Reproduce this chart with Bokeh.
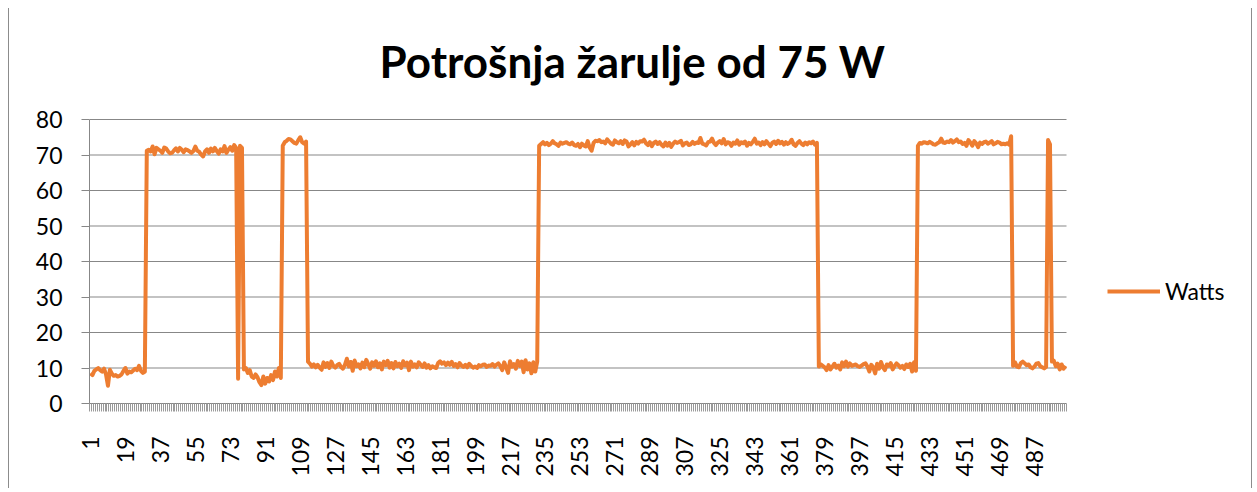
import numpy as np
from bokeh.plotting import figure
from bokeh.models import Range1d, FixedTicker, Legend, LegendItem, ColumnDataSource, Label
from bokeh.embed import file_html
from bokeh.resources import INLINE

# ---- data, one value per sample ----
low_a = [8.5, 8.0, 9.2, 9.6, 10.0, 9.4, 9.0, 9.8, 8.2, 5.0, 9.5, 8.4, 7.8, 8.0, 7.6,
         7.8, 8.2, 9.2, 10.0, 8.4, 9.0, 8.8, 9.3, 9.8, 9.4, 10.6, 9.2, 8.6, 9.0]
high_b = [71.2, 71.5, 71.0, 72.4, 70.2, 72.0, 71.6, 71.2, 70.6, 72.1,
          71.8, 71.0, 70.5, 70.6, 71.3, 71.9, 71.0, 72.0, 71.5, 70.8,
          71.6, 71.4, 71.0, 70.6, 71.1, 72.4, 71.2, 70.9, 70.1, 69.6,
          71.0, 71.6, 70.6, 71.8, 71.0, 72.0, 71.1, 70.4, 71.6, 71.0,
          72.5, 70.6, 71.5, 72.2, 71.2, 72.8, 72.0]
flicker_c = [7.0, 72.6, 72.0]
low_d = [9.6, 10.0, 8.6, 9.4, 7.6, 7.2, 8.2, 7.4, 6.0, 5.2,
         7.6, 5.6, 7.2, 6.2, 8.0, 6.6, 9.0, 7.6, 10.0, 7.2]
high_e = [72.6, 73.6, 74.0, 74.5, 74.4, 73.9, 73.4, 73.2, 74.2, 75.0, 73.6, 73.2, 73.8]
low_f = [11.8, 11.2, 10.4, 11.0, 10.2, 10.9, 10.1, 9.5, 11.6, 10.3,
         11.4, 10.0, 11.8, 10.6, 10.1, 10.8, 11.2, 10.3, 9.8, 10.9,
         12.6, 10.4, 11.7, 9.2, 12.1, 10.5, 11.0, 9.9, 11.5, 10.2,
         12.3, 11.1, 9.8, 11.6, 10.6, 11.9, 10.2, 11.3, 9.6, 11.8,
         10.8, 12.0, 10.1, 11.4, 9.9, 11.7, 10.5, 11.2, 10.0, 11.9,
         10.7, 11.5, 9.4, 11.8, 10.4, 11.0, 10.2, 11.6, 10.9, 10.3,
         11.3, 10.1, 10.8, 9.9, 10.5, 10.2, 10.0, 11.4, 11.9, 11.2,
         11.6, 10.8, 11.5, 10.9, 11.7, 10.6, 11.1, 10.2, 11.4, 10.7,
         10.3, 10.9, 10.2, 11.2, 10.6, 10.1, 10.4, 10.0, 10.8, 10.5,
         10.9, 11.0, 10.3, 10.7, 10.6, 11.1, 10.4, 10.9, 11.3, 10.5,
         9.4, 11.6, 10.2, 8.6, 11.9, 10.4, 11.1, 9.8, 12.0, 10.6,
         11.8, 8.8, 12.2, 9.6, 11.3, 8.5, 11.6, 9.0, 11.8]
high_g = [72.6, 73.1, 73.6, 73.0, 73.4, 72.8, 73.2, 73.9, 73.3, 73.0,
          72.6, 73.5, 73.2, 73.4, 73.6, 73.2, 73.0, 73.5, 72.8, 72.6,
          73.1, 72.2, 73.2, 72.7, 72.4, 73.9, 72.1, 71.2, 73.4, 74.0,
          73.9, 74.2, 73.6, 73.8, 73.3, 74.4, 73.8, 73.2, 72.9, 74.1,
          73.6, 73.3, 73.9, 73.1, 74.1, 73.8, 72.4, 73.0, 73.6, 72.7,
          73.7, 73.2, 73.9, 73.8, 74.3, 73.3, 72.8, 73.6, 72.5, 73.4,
          73.8, 73.1, 73.6, 72.9, 72.4, 73.5, 72.6, 73.4, 72.3, 73.2,
          73.8, 73.4, 73.6, 74.0, 72.7, 73.3, 73.5, 72.8, 73.0, 73.7,
          73.1, 73.5, 73.4, 74.8, 73.2, 73.0, 72.7, 73.6, 73.8, 74.6,
          73.4, 72.8, 73.5, 73.9, 73.3, 74.5, 73.0, 73.6, 73.4, 72.6,
          73.5, 73.2, 74.1, 72.9, 73.6, 73.3, 73.8, 72.6, 73.4, 73.0,
          73.7, 74.6, 73.2, 73.5, 72.8, 73.6, 73.0, 73.9, 73.2, 72.5,
          73.4, 73.8, 73.1, 74.0, 73.3, 73.7, 72.9, 73.6, 73.1, 73.5,
          74.3, 73.0, 72.6, 73.4, 73.9, 73.2, 72.8, 73.5, 73.0, 73.6,
          73.3, 73.8, 72.9, 73.4]
low_h = [10.4, 11.0, 10.6, 10.2, 9.4, 10.8, 9.6, 10.4, 11.2, 10.1,
         10.7, 9.6, 11.6, 10.5, 11.8, 10.4, 11.3, 10.6, 10.8, 11.0,
         10.5, 10.3, 10.7, 11.1, 11.3, 10.4, 9.0, 10.9, 10.2, 8.5,
         11.2, 9.8, 11.7, 10.2, 9.4, 11.0, 10.6, 11.4, 9.6, 10.5,
         11.3, 10.8, 10.1, 10.6, 9.7, 11.0, 10.3, 11.2, 9.0, 11.6,
         9.2]
high_i = [72.6, 73.4, 73.2, 73.6, 73.5, 73.3, 73.7, 73.4, 73.0, 72.9,
          73.3, 73.6, 74.6, 73.5, 73.4, 73.8, 73.6, 74.2, 73.5, 73.9,
          74.4, 73.6, 73.8, 73.1, 73.4, 72.6, 74.2, 73.5, 72.6, 73.9,
          73.3, 72.2, 73.5, 73.1, 73.6, 73.8, 73.2, 73.5, 73.9, 73.0,
          73.3, 73.7, 73.5, 73.0, 73.2, 73.0, 73.3, 72.9, 75.3]
low_j = [10.6, 11.6, 10.4, 10.2, 11.4, 11.8, 11.3, 10.8, 11.0, 10.2,
         9.9, 10.4, 11.2, 11.4, 10.5, 10.2, 9.9, 10.3]
spike_k = [74.2, 73.0]
low_l = [11.8, 12.0, 10.5, 11.2, 9.6, 11.0, 9.8, 10.6]

watts = (low_a + high_b + flicker_c + low_d + high_e + low_f + high_g
         + low_h + high_i + low_j + spike_k + low_l)
samples = list(range(1, len(watts) + 1))
N = len(watts)

x_tick_labels = list(range(1, N + 1, 18))
y_ticks = [0, 10, 20, 30, 40, 50, 60, 70, 80]
y_max = 80

title_text = "Potrošnja žarulje od 75 W"
series_name = "Watts"

LINE = "#ED7D31"
GRID = "#878787"
FONT = "Lato"
TICK_SIZE = "23px"

# ---- layout, in pixels of the canvas ----
# The plot area is 977 x 284 px; the frame is widened to the right edge and
# up to the top edge, so that the legend and the title (drawn inside the
# frame) are not clipped.
PLOT_W, PLOT_H = 977, 284
FRAME_W, FRAME_H = 1164, 395
TITLE_CX_PX = 543      # title centre, from plot-area left
TITLE_BASE_PX = 343    # title anchor, above plot-area bottom

x_start = 0.5
x_plot_end = N + 0.5
x_frame_end = x_start + (x_plot_end - x_start) * FRAME_W / PLOT_W
y_frame_end = y_max * FRAME_H / PLOT_H

p = figure(width=1244, height=480, output_backend="svg", toolbar_location=None,
           x_range=Range1d(x_start, x_frame_end), y_range=Range1d(0, y_frame_end),
           min_border_left=80, min_border_right=0, min_border_top=0,
           min_border_bottom=85, title=None)
p.styles = {"margin-left": "8px", "margin-top": "8px",
            "border-left": "1px solid #8c8c8c", "border-right": "1px solid #8c8c8c"}
p.outline_line_color = None
p.background_fill_color = "white"
p.border_fill_color = "white"

# title
p.add_layout(Label(x=x_start + (x_plot_end - x_start) * TITLE_CX_PX / PLOT_W,
                   y=y_max * TITLE_BASE_PX / PLOT_H,
                   text=title_text, text_align="center", text_baseline="alphabetic",
                   text_font=FONT, text_font_size="44px", text_font_style="bold",
                   text_color="black"))

# horizontal gridlines limited to the plot area
grid_src = ColumnDataSource(dict(x0=[x_start] * (len(y_ticks) - 1),
                                 x1=[x_plot_end] * (len(y_ticks) - 1),
                                 y=y_ticks[1:]))
p.segment(x0="x0", y0="y", x1="x1", y1="y", source=grid_src,
          line_color=GRID, line_width=1)

src = ColumnDataSource(dict(x=samples, y=watts))
r = p.line(x="x", y="y", source=src, line_color=LINE, line_width=4, line_join="round")

# x axis (category style)
p.xaxis.bounds = (x_start, x_plot_end)
p.xaxis.ticker = FixedTicker(ticks=x_tick_labels,
                             minor_ticks=[i + 0.5 for i in range(0, N + 1)])
p.xaxis.major_tick_out = 0
p.xaxis.major_tick_in = 0
p.xaxis.minor_tick_out = 8
p.xaxis.minor_tick_in = 0
p.xaxis.minor_tick_line_color = "#9a9a9a"
p.xaxis.axis_line_color = GRID
p.xaxis.major_label_orientation = np.pi / 2
p.xaxis.major_label_standoff = 25
p.xaxis.major_label_text_font = FONT
p.xaxis.major_label_text_font_size = TICK_SIZE
p.xaxis.major_label_text_color = "black"

# y axis
p.yaxis.bounds = (0, y_max)
p.yaxis.ticker = FixedTicker(ticks=y_ticks)
p.yaxis.major_tick_out = 8
p.yaxis.major_tick_in = 0
p.yaxis.minor_tick_out = 0
p.yaxis.major_tick_line_color = GRID
p.yaxis.axis_line_color = GRID
p.yaxis.major_label_standoff = 19
p.yaxis.major_label_text_font = FONT
p.yaxis.major_label_text_font_size = TICK_SIZE
p.yaxis.major_label_text_color = "black"

p.xgrid.visible = False
p.ygrid.visible = False

legend = Legend(items=[LegendItem(label=series_name, renderers=[r])],
                location=(1018, 98), orientation="vertical",
                glyph_width=53, glyph_height=24, label_height=24,
                label_standoff=5, padding=0, margin=0, spacing=0,
                border_line_color=None, background_fill_alpha=0,
                label_text_font=FONT, label_text_font_size=TICK_SIZE,
                label_text_color="black")
p.add_layout(legend)

open("out.html", "w").write(file_html(p, INLINE))
